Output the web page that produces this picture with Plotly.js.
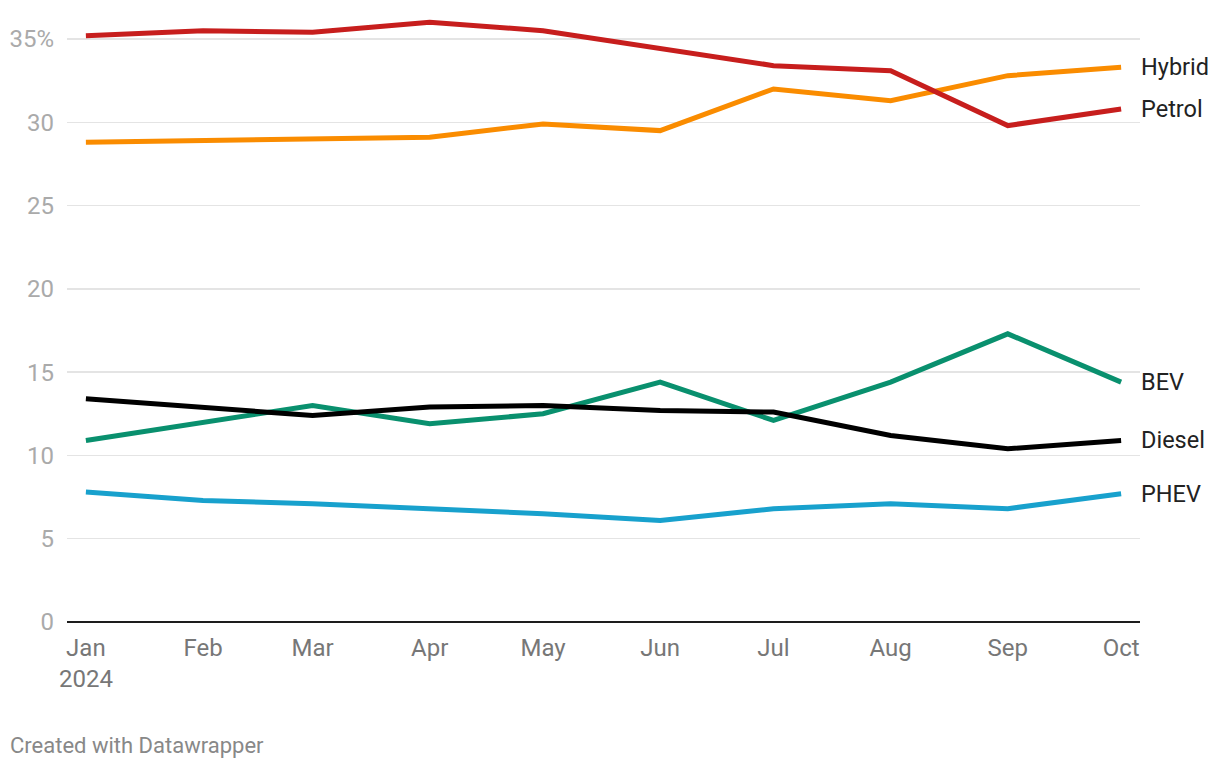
<!DOCTYPE html>
<html>
<head>
<meta charset="utf-8">
<script src="https://cdn.plot.ly/plotly-3.0.1.min.js"></script>
<style>
html,body{margin:0;padding:0;background:#fff;}
#chart{width:1220px;height:768px;}
</style>
</head>
<body>
<div id="chart"></div>
<script>
const months = ['2024-01-01','2024-02-01','2024-03-01','2024-04-01','2024-05-01','2024-06-01','2024-07-01','2024-08-01','2024-09-01','2024-10-01'];
const monthLabels = ['Jan<br>2024','Feb','Mar','Apr','May','Jun','Jul','Aug','Sep','Oct'];
const petrol = [35.2, 35.5, 35.4, 36.0, 35.5, 34.4, 33.4, 33.1, 29.8, 30.8];
const hybrid = [28.8, 28.9, 29.0, 29.1, 29.9, 29.5, 32.0, 31.3, 32.8, 33.3];
const bev    = [10.9, 12.0, 13.0, 11.9, 12.5, 14.4, 12.1, 14.4, 17.3, 14.4];
const diesel = [13.4, 12.9, 12.4, 12.9, 13.0, 12.7, 12.6, 11.2, 10.4, 10.9];
const phev   = [7.8, 7.3, 7.1, 6.8, 6.5, 6.1, 6.8, 7.1, 6.8, 7.7];
const yTickVals = [0, 5, 10, 15, 20, 25, 30, 35];
const yTickText = ['0', '5', '10', '15', '20', '25', '30', '35%'];

const series = [
  {name: 'PHEV', y: phev, color: '#18a1cd'},
  {name: 'BEV', y: bev, color: '#09906e'},
  {name: 'Diesel', y: diesel, color: '#000000'},
  {name: 'Hybrid', y: hybrid, color: '#fa8c00'},
  {name: 'Petrol', y: petrol, color: '#c71e1d'}
];

const traces = series.map(s => ({
  type: 'scatter', mode: 'lines', x: months, y: s.y, name: s.name,
  line: {color: s.color, width: 5}, hoverinfo: 'skip', cliponaxis: false
}));

const annotations = series.map(s => ({
  x: months[months.length - 1], y: s.y[s.y.length - 1], xref: 'x', yref: 'y',
  text: s.name, showarrow: false, xanchor: 'left', yanchor: 'middle', xshift: 18,
  font: {family: 'Roboto, sans-serif', size: 23.5, color: '#222'}
}));
annotations.push({
  x: 0, y: 0, xref: 'paper', yref: 'paper', xanchor: 'left', yanchor: 'top',
  xshift: -59, yshift: -109,
  text: 'Created with Datawrapper', showarrow: false,
  font: {family: 'Roboto, sans-serif', size: 22, color: '#888'}
});

const layout = {
  width: 1220, height: 768,
  margin: {l: 67, r: 80, t: 19, b: 146},
  paper_bgcolor: '#fff', plot_bgcolor: '#fff',
  showlegend: false,
  font: {family: 'Roboto, sans-serif'},
  xaxis: {
    type: 'date', range: ['2023-12-27', '2024-10-06'],
    tickvals: months, ticktext: monthLabels,
    showgrid: false, zeroline: false, showline: false,
    ticks: '', ticklabelstandoff: 9,
    tickfont: {family: 'Roboto, sans-serif', size: 24, color: '#777'}
  },
  yaxis: {
    range: [0, 36.2], tickvals: yTickVals, ticktext: yTickText,
    showgrid: true, gridcolor: '#e4e4e4', gridwidth: 1.5,
    zeroline: true, zerolinecolor: '#1d1d1d', zerolinewidth: 2.5,
    showline: false, ticks: '', ticklabelstandoff: 12,
    tickfont: {family: 'Roboto, sans-serif', size: 24, color: '#aaa'}
  },
  annotations: annotations
};

Plotly.newPlot('chart', traces, layout, {displayModeBar: false, staticPlot: true});
</script>
</body>
</html>
